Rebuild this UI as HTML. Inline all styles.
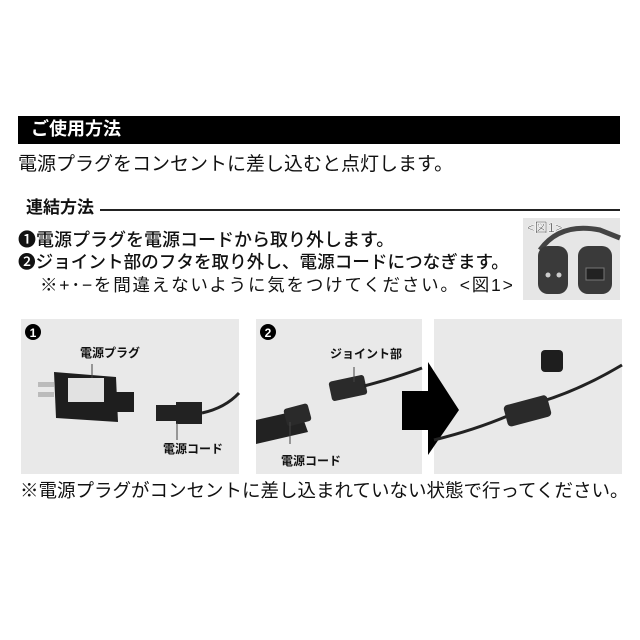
<!DOCTYPE html>
<html><head><meta charset="utf-8"><style>
body{margin:0;width:640px;height:640px;background:#fff;position:relative;overflow:hidden;font-family:"Liberation Sans","Noto Sans CJK JP",sans-serif;color:#111}
.a{position:absolute;white-space:nowrap;line-height:1}
</style></head><body>
<div class="a" style="left:18px;top:116px;width:602px;height:28px;background:#000"></div>
<div class="a" style="left:31px;top:120px;color:#fff;font-size:18px;font-weight:bold">ご使用方法</div>
<div class="a" style="left:18px;top:155px;font-size:19px">電源プラグをコンセントに差し込むと点灯します。</div>
<div class="a" style="left:26px;top:199px;font-size:17px;font-weight:bold">連結方法</div>
<div class="a" style="left:100px;top:209px;width:520px;height:1.5px;background:#222"></div>
<div class="a" style="left:18px;top:231px;font-size:18px;font-weight:500">❶電源プラグを電源コードから取り外します。</div>
<div class="a" style="left:18px;top:254px;font-size:17.6px;font-weight:500">❷ジョイント部のフタを取り外し、電源コードにつなぎます。</div>
<div class="a" style="left:40px;top:277px;font-size:17.5px;letter-spacing:1.8px">※+･−を間違えないように気をつけてください。&lt;図1&gt;</div>

<svg class="a" style="left:0;top:0" width="640" height="640">
<rect x="523" y="218" width="97" height="82" fill="#e6e6e6"/>
<path d="M540 250 Q560 222 600 230 L620 238" stroke="#444" stroke-width="5" fill="none"/>
<rect x="538" y="246" width="30" height="48" rx="10" fill="#3a3a3a"/>
<rect x="578" y="246" width="34" height="48" rx="10" fill="#3a3a3a"/>
<circle cx="548" cy="275" r="2.5" fill="#ccc"/><circle cx="559" cy="275" r="2.5" fill="#ccc"/>
<rect x="586" y="268" width="18" height="12" fill="#222" stroke="#777"/>
<text x="527" y="232" font-size="13" fill="#111" stroke="#fff" stroke-width="0.5">&lt;図1&gt;</text>

<rect x="21" y="319" width="218" height="155" fill="#e9e9e9"/>
<rect x="256" y="319" width="166" height="155" fill="#e9e9e9"/>
<rect x="434" y="319" width="188" height="155" fill="#e9e9e9"/>
<rect x="38" y="382" width="16" height="5" fill="#bbb"/><rect x="38" y="392" width="16" height="5" fill="#bbb"/>
<path d="M54 372 L116 377 L118 422 L56 418 Z" fill="#1e1e1e"/>
<rect x="68" y="378" width="36" height="24" fill="#e2e2e2"/>
<rect x="116" y="392" width="18" height="20" fill="#1e1e1e"/>
<rect x="156" y="405" width="20" height="16" fill="#222"/>
<rect x="176" y="402" width="26" height="22" fill="#222"/>
<path d="M202 413 Q225 408 239 393" stroke="#222" stroke-width="3" fill="none"/>
<line x1="92" y1="364" x2="92" y2="378" stroke="#444"/>
<line x1="177" y1="423" x2="177" y2="440" stroke="#444"/>
<path d="M256 420 L300 410 L308 432 L256 444 Z" fill="#222"/>
<rect x="285" y="406" width="25" height="18" rx="3" fill="#2a2a2a" transform="rotate(-15 297 415)"/>
<rect x="330" y="378" width="36" height="20" rx="3" fill="#2a2a2a" transform="rotate(-12 348 388)"/>
<path d="M364 386 Q395 378 422 368" stroke="#222" stroke-width="3" fill="none"/>
<line x1="354" y1="367" x2="354" y2="382" stroke="#444"/>
<line x1="290" y1="422" x2="290" y2="444" stroke="#444"/>
<path d="M402 391 L428 391 L428 362 L459 410 L428 455 L428 430 L402 430 Z" fill="#000"/>
<rect x="541" y="350" width="22" height="22" rx="4" fill="#1e1e1e"/>
<path d="M434 440 Q475 430 510 415 L540 402 Q580 390 622 365" stroke="#222" stroke-width="3" fill="none"/>
<rect x="505" y="400" width="45" height="22" rx="4" fill="#2a2a2a" transform="rotate(-15 527 411)"/>
<circle cx="33" cy="332" r="8" fill="#000"/><text x="33" y="337" font-size="12" font-weight="bold" fill="#fff" text-anchor="middle">1</text>
<circle cx="268" cy="332" r="8" fill="#000"/><text x="268" y="337" font-size="12" font-weight="bold" fill="#fff" text-anchor="middle">2</text>
</svg>
<div class="a" style="left:80px;top:347px;font-size:12px;font-weight:bold">電源プラグ</div>
<div class="a" style="left:163px;top:443px;font-size:12px;font-weight:bold">電源コード</div>
<div class="a" style="left:330px;top:348px;font-size:12px;font-weight:bold">ジョイント部</div>
<div class="a" style="left:281px;top:455px;font-size:12px;font-weight:bold">電源コード</div>
<div class="a" style="left:20px;top:482px;font-size:18.5px">※電源プラグがコンセントに差し込まれていない状態で行ってください。</div>
</body></html>
